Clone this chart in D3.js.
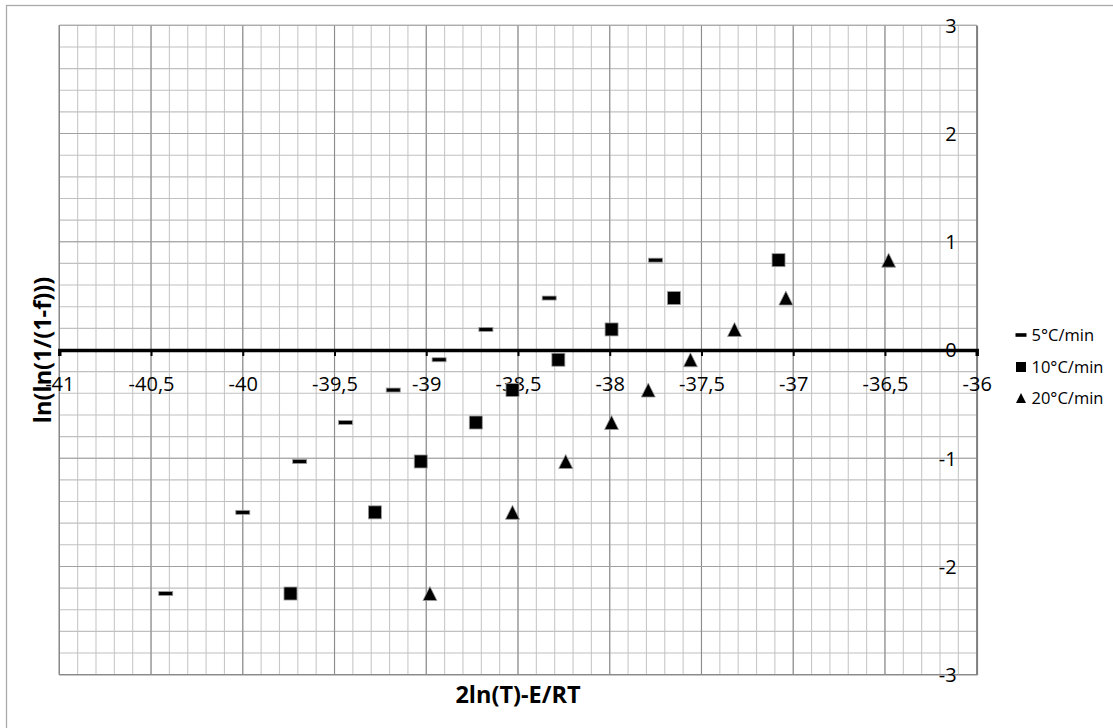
<!DOCTYPE html>
<html>
<head>
<meta charset="utf-8">
<script src="https://cdn.jsdelivr.net/npm/d3@7"></script>
<style>
  html, body { margin: 0; padding: 0; background: #fff; }
  svg { display: block; font-family: "Open Sans", sans-serif; }
</style>
</head>
<body>
<svg id="chart" width="1113" height="728"></svg>
<script>
// Conversion values ln(ln(1/(1-f))) shared by the three heating rates
const convY = [-2.25, -1.50, -1.03, -0.67, -0.37, -0.09, 0.19, 0.48, 0.83];
// 2ln(T)-E/RT for each heating rate
const x5C  = [-40.42, -40.00, -39.69, -39.44, -39.18, -38.93, -38.675, -38.33, -37.75];
const x10C = [-39.74, -39.28, -39.03, -38.73, -38.53, -38.28, -37.99, -37.65, -37.08];
const x20C = [-38.98, -38.53, -38.24, -37.99, -37.79, -37.56, -37.32, -37.04, -36.48];
const seriesNames = ["5°C/min", "10°C/min", "20°C/min"];
const xTickValues = [-41, -40.5, -40, -39.5, -39, -38.5, -38, -37.5, -37, -36.5, -36];
const yTickValues = [-3, -2, -1, 0, 1, 2, 3];

const svg = d3.select("#chart");
const plotL = 59.3, plotR = 976.7, plotT = 25.3, plotB = 674.7;

const x = d3.scaleLinear().domain([-41, -36]).range([plotL, plotR]);
const y = d3.scaleLinear().domain([-3, 3]).range([plotB, plotT]);

const locale = d3.formatLocale({ decimal: ",", thousands: ".", grouping: [3], currency: ["", ""], minus: "-" });
const fmt = locale.format("~g");

// outer frame
svg.append("rect")
  .attr("x", 6.5).attr("y", 5.5).attr("width", 1112).attr("height", 726)
  .attr("fill", "none").attr("stroke", "#ababab").attr("stroke-width", 1.3);

// minor grid
const grid = svg.append("g");
const minorX = d3.range(0, 51).map(i => -41 + i * 0.1);
const minorY = d3.range(0, 31).map(i => -3 + i * 0.2);
grid.selectAll("line.mx").data(minorX).join("line")
  .attr("x1", d => x(d)).attr("x2", d => x(d)).attr("y1", plotT).attr("y2", plotB)
  .attr("stroke", "#c8c8c8").attr("stroke-width", 1.1);
grid.selectAll("line.my").data(minorY).join("line")
  .attr("y1", d => y(d)).attr("y2", d => y(d)).attr("x1", plotL).attr("x2", plotR)
  .attr("stroke", "#c0c0c0").attr("stroke-width", 1.1);
// major grid
grid.selectAll("line.Mx").data(xTickValues).join("line")
  .attr("x1", d => x(d)).attr("x2", d => x(d)).attr("y1", plotT).attr("y2", plotB)
  .attr("stroke", "#8c8c8c").attr("stroke-width", 1.1);
grid.selectAll("line.My").data(yTickValues).join("line")
  .attr("y1", d => y(d)).attr("y2", d => y(d)).attr("x1", plotL).attr("x2", plotR)
  .attr("stroke", "#a0a0a0").attr("stroke-width", 1.1);
// plot edges
grid.append("line").attr("x1", plotL).attr("x2", plotL).attr("y1", plotT).attr("y2", plotB)
  .attr("stroke", "#8a8a8a").attr("stroke-width", 1.2);
grid.append("line").attr("x1", plotL).attr("x2", plotR).attr("y1", plotB).attr("y2", plotB)
  .attr("stroke", "#8a8a8a").attr("stroke-width", 1.3);

// vertical axis on the right edge
const yAxis = svg.append("g")
  .attr("transform", `translate(${x(-36)},0)`)
  .call(d3.axisLeft(y).tickValues(yTickValues).tickSize(0).tickPadding(20).tickFormat(fmt));
yAxis.select(".domain").attr("stroke", "#808080").attr("stroke-width", 1.8);
yAxis.selectAll("text").attr("font-family", "Open Sans").attr("font-size", 20).attr("fill", "#000").attr("dy", "0.34em");

// horizontal axis crossing at zero
const xAxis = svg.append("g")
  .attr("transform", `translate(0,${y(0)})`)
  .call(d3.axisBottom(x).tickValues(xTickValues).tickSize(6).tickPadding(21).tickFormat(fmt));
xAxis.select(".domain").attr("stroke", "#000").attr("stroke-width", 3.4);
xAxis.selectAll(".tick line").attr("stroke", "#000").attr("stroke-width", 2);
xAxis.selectAll("text").attr("font-family", "Open Sans").attr("font-size", 20).attr("fill", "#000");

// markers
const markers = svg.append("g");
const triPath = (w, h) => `M0,${-h / 2}L${w / 2},${h / 2}L${-w / 2},${h / 2}Z`;

markers.selectAll("rect.s5").data(d3.zip(x5C, convY)).join("rect")
  .attr("x", d => x(d[0]) - 7).attr("y", d => y(d[1]) - 2)
  .attr("width", 14).attr("height", 4)
  .attr("fill", "#000").attr("stroke", "#9a9a9a").attr("stroke-width", 0.8);

markers.selectAll("rect.s10").data(d3.zip(x10C, convY)).join("rect")
  .attr("x", d => x(d[0]) - 6.5).attr("y", d => y(d[1]) - 6.5)
  .attr("width", 13).attr("height", 13)
  .attr("fill", "#000").attr("stroke", "#9a9a9a").attr("stroke-width", 0.8);

markers.selectAll("path.s20").data(d3.zip(x20C, convY)).join("path")
  .attr("transform", d => `translate(${x(d[0])},${y(d[1])})`)
  .attr("d", triPath(14, 14))
  .attr("fill", "#000").attr("stroke", "#9a9a9a").attr("stroke-width", 0.8);

// legend
const legend = svg.append("g");
const legendRows = [335, 367, 398];
const lx = 1021;
legend.append("rect").attr("x", lx - 5.5).attr("y", legendRows[0] - 1.8).attr("width", 11).attr("height", 3.6).attr("fill", "#000");
legend.append("rect").attr("x", lx - 5).attr("y", legendRows[1] - 5).attr("width", 10).attr("height", 10).attr("fill", "#000");
legend.append("path").attr("transform", `translate(${lx},${legendRows[2]})`).attr("d", triPath(10, 10)).attr("fill", "#000");
legend.selectAll("text").data(seriesNames).join("text")
  .attr("x", 1031.5).attr("y", (d, i) => legendRows[i] + 6)
  .attr("font-family", "Open Sans").attr("font-size", 16.5).attr("fill", "#000")
  .text(d => d);

// axis titles
svg.append("text")
  .attr("x", (plotL + plotR) / 2).attr("y", 703)
  .attr("text-anchor", "middle").attr("font-weight", "bold").attr("font-size", 23.5).attr("fill", "#000")
  .text("2ln(T)-E/RT");
svg.append("text")
  .attr("transform", `translate(51,${(plotT + plotB) / 2}) rotate(-90)`)
  .attr("text-anchor", "middle").attr("font-weight", "bold").attr("font-size", 23.5).attr("fill", "#000")
  .text("ln(ln(1/(1-f)))");
</script>
</body>
</html>
